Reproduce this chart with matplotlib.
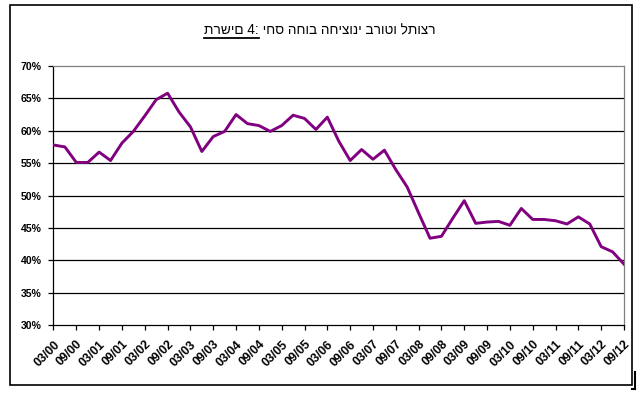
import numpy as np
import matplotlib
matplotlib.use('Agg')
import matplotlib.pyplot as plt
from matplotlib.ticker import FuncFormatter

plt.rcParams['font.family'] = ['Liberation Sans', 'DejaVu Sans']

# gross external debt to GDP, quarterly 03/00 .. 09/12 (percent)
debt_ratio = [57.8, 57.5, 55.1, 55.1, 56.7, 55.4, 58.1, 59.9, 62.3, 64.8,
              65.8, 62.9, 60.6, 56.8, 59.1, 59.9, 62.5, 61.1, 60.8, 59.9,
              60.8, 62.4, 61.9, 60.2, 62.1, 58.4, 55.4, 57.1, 55.6, 57.0,
              54.0, 51.3, 47.3, 43.4, 43.7, 46.5, 49.2, 45.7, 45.9, 46.0,
              45.4, 48.0, 46.3, 46.3, 46.1, 45.6, 46.7, 45.6, 42.1, 41.3,
              39.4]
tick_labels = ['03/00', '09/00', '03/01', '09/01', '03/02', '09/02', '03/03',
               '09/03', '03/04', '09/04', '03/05', '09/05', '03/06', '09/06',
               '03/07', '09/07', '03/08', '09/08', '03/09', '09/09', '03/10',
               '09/10', '03/11', '09/11', '03/12', '09/12']
y_ticks = [30, 35, 40, 45, 50, 55, 60, 65, 70]

title_a = 'תרשים 4:'
title_b = ' יחס החוב החיצוני ברוטו לתוצר'

W, H = 638, 393
fig = plt.figure(figsize=(W / 100, H / 100), dpi=100)
fig.patch.set_facecolor('white')

# plot area in pixel coords of the reference
left, right, top, bottom = 53.5, 624, 66, 325
ax = fig.add_axes([left / W, 1 - bottom / H, (right - left) / W, (bottom - top) / H])

x = np.arange(len(debt_ratio))
ax.plot(x, debt_ratio, color='#800080', lw=2.1, solid_joinstyle='round', zorder=3)

ax.set_xlim(0, len(debt_ratio) - 1)
ax.set_ylim(y_ticks[0], y_ticks[-1])

for yv in y_ticks[1:-1]:
    ax.axhline(yv, color='black', lw=0.9, zorder=1)

ax.set_yticks(y_ticks)
ax.yaxis.set_major_formatter(FuncFormatter(lambda v, p: '%d%%' % v))
ax.set_xticks(x[::2])
ax.set_xticklabels(tick_labels, rotation=45, ha='right', va='top',
                   rotation_mode='anchor')

ax.tick_params(axis='both', direction='out', length=3.6, width=0.9, color='black')
ax.tick_params(axis='x', pad=6, labelsize=8.8)
ax.tick_params(axis='y', pad=5, labelsize=7.6)
for lab in ax.get_xticklabels() + ax.get_yticklabels():
    lab.set_fontweight('bold')

for side in ['left', 'bottom']:
    ax.spines[side].set_color('black')
    ax.spines[side].set_linewidth(0.9)
for side in ['top', 'right']:
    ax.spines[side].set_color('#808080')
    ax.spines[side].set_linewidth(0.9)

# chart frame
fig.add_artist(plt.Rectangle((10 / W, 1 - 385 / H), 622 / W, 380 / H,
                             transform=fig.transFigure, fill=False,
                             edgecolor='black', lw=1.2))
# shadow corner
fig.add_artist(plt.Line2D([635 / W, 635 / W], [1 - 372 / H, 1 - 389 / H],
                          transform=fig.transFigure, color='black', lw=1.5))
fig.add_artist(plt.Line2D([632 / W, 635 / W], [1 - 389 / H, 1 - 389 / H],
                          transform=fig.transFigure, color='black', lw=1.5))

# title: underlined part followed by the rest
fig.canvas.draw()
r = fig.canvas.get_renderer()
ta = fig.text(0, 1 - 30 / H, title_a, fontsize=9.8, va='center', ha='left')
tb = fig.text(0, 1 - 30 / H, title_b, fontsize=9.8, va='center', ha='left')
wa = ta.get_window_extent(r).width
wb = tb.get_window_extent(r).width
x0 = 320 - (wa + wb) / 2
ta.set_x(x0 / W)
tb.set_x((x0 + wa) / W)
fig.add_artist(plt.Line2D([x0 / W, (x0 + wa) / W], [1 - 38 / H, 1 - 38 / H],
                          transform=fig.transFigure, color='black', lw=1.3))

fig.savefig('out.png', dpi=100)
